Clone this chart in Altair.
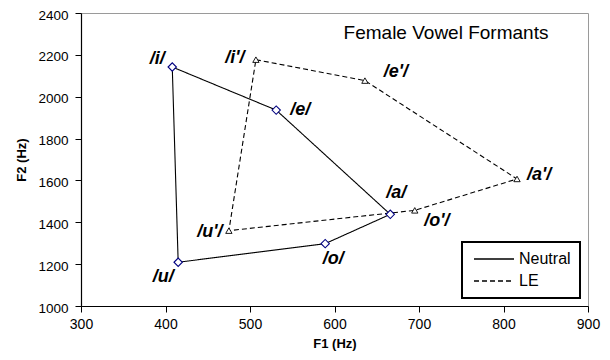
import altair as alt
import pandas as pd

vowels = ["i", "e", "a", "o", "u"]
neutral_f1 = [408, 531, 666, 589, 415]
neutral_f2 = [2142, 1936, 1438, 1298, 1209]
le_f1 = [507, 636, 816, 695, 475]
le_f2 = [2177, 2077, 1607, 1457, 1360]
series_names = ["Neutral", "LE"]
neutral_labels = ["/i/", "/e/", "/a/", "/o/", "/u/"]
le_labels = ["/i'/", "/e'/", "/a'/", "/o'/", "/u'/"]
x_ticks = [300, 400, 500, 600, 700, 800, 900]
y_ticks = [1000, 1200, 1400, 1600, 1800, 2000, 2200, 2400]
title_text = "Female Vowel Formants"

FONT = "Liberation Sans, Arial, sans-serif"

rows = []
for s, f1s, f2s, labs in [
    (series_names[0], neutral_f1, neutral_f2, neutral_labels),
    (series_names[1], le_f1, le_f2, le_labels),
]:
    n = len(f1s)
    for k in range(n + 1):
        j = k % n
        rows.append({"series": s, "F1": f1s[j], "F2": f2s[j], "order": k, "label": labs[j]})
df = pd.DataFrame(rows)
pts = df[df["order"] < 5]

xscale = alt.Scale(domain=[300, 900], nice=False, zero=False)
yscale = alt.Scale(domain=[1000, 2400], nice=False, zero=False)

xenc = alt.X("F1:Q", scale=xscale, title="F1 (Hz)",
             axis=alt.Axis(values=x_ticks, format="d", labelFlush=False,
                           titleY=37, titleBaseline="middle"))
yenc = alt.Y("F2:Q", scale=yscale, title="F2 (Hz)",
             axis=alt.Axis(values=y_ticks, format="d", labelFlush=False, labelOffset=2,
                           labelFontSize=13.5, titleX=-60, titleBaseline="middle"))

lines = alt.Chart(df).mark_line(color="black", strokeWidth=1.1).encode(
    x=xenc, y=yenc, order="order:Q", detail="series:N",
    strokeDash=alt.StrokeDash(
        "series:N",
        scale=alt.Scale(domain=series_names, range=[[1, 0], [5, 3]]),
        legend=alt.Legend(title=None, orient="none", legendX=381, legendY=229,
                          strokeColor="black", padding=9,
                          symbolType="M-1,0L7,0", symbolSize=100,
                          symbolStrokeColor="black", symbolStrokeWidth=1.6,
                          labelFontSize=16, labelFont=FONT, labelColor="black",
                          rowPadding=6, labelOffset=32),
    ),
)

neutral_pts = alt.Chart(pts[pts["series"] == "Neutral"]).mark_point(
    shape="diamond", filled=True, fill="white", stroke="#000080", strokeWidth=1.1, size=70, opacity=1
).encode(x=xenc, y=yenc)

le_pts = alt.Chart(pts[pts["series"] == "LE"]).mark_point(
    shape="triangle-up", filled=True, fill="white", stroke="black", strokeWidth=0.9, size=40, opacity=1
).encode(x=xenc, y=yenc)

# label offsets (styling) in pixels
offsets = {
    "/i/": (-15, -8), "/e/": (24, 0), "/a/": (6, -21), "/o/": (8, 15), "/u/": (-15, 15),
    "/i'/": (-21, -2), "/e'/": (31, -9), "/a'/": (22, -4), "/o'/": (22, 11), "/u'/": (-19, 1),
}
label_layers = []
for lab, (dx, dy) in offsets.items():
    label_layers.append(
        alt.Chart(pts[pts["label"] == lab]).mark_text(
            font=FONT, fontSize=18, fontWeight="bold", fontStyle="italic",
            color="black", dx=dx, dy=dy, align="center", baseline="middle"
        ).encode(x=xenc, y=yenc, text="label:N")
    )

title_layer = alt.Chart(pd.DataFrame({"t": [title_text]})).mark_text(
    font=FONT, fontSize=19, color="black", align="center", baseline="middle"
).encode(x=alt.value(365), y=alt.value(20), text="t:N")

chart = alt.layer(lines, neutral_pts, le_pts, *label_layers, title_layer).properties(
    width=507, height=293,
    autosize=alt.AutoSizeParams(type="none"),
    padding={"left": 73, "top": 5, "right": 14, "bottom": 46},
).configure_view(
    stroke="#9a9a9a", strokeWidth=1
).configure_axis(
    grid=False, domainColor="black", domainWidth=1.2, tickColor="black", tickSize=6,
    labelFont=FONT, labelFontSize=14, labelColor="black",
    titleFont=FONT, titleFontSize=13, titleFontWeight="bold", titleColor="black",
).configure_axisY(labelPadding=7).configure_axisX(labelPadding=5
).configure_legend(strokeWidth=2)

chart.save("out.html", embed_options={"renderer": "svg", "actions": False})
